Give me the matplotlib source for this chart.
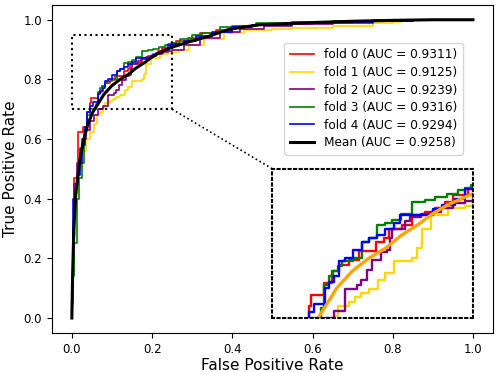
import numpy as np
import matplotlib
matplotlib.use("Agg")
import matplotlib.pyplot as plt

# ==== ROC-Daten ====
fold_names = ["fold 0", "fold 1", "fold 2", "fold 3", "fold 4"]
fold_auc = [0.9311, 0.9125, 0.9239, 0.9316, 0.9294]
fold_colors = ["red", "gold", "purple", "green", "blue"]

fpr_0 = [0, 0, 0.002, 0.006, 0.015, 0.029, 0.037, 0.045, 0.048, 0.064, 0.074, 0.083, 0.095, 0.108, 0.129, 0.139,
         0.145, 0.161, 0.174, 0.19, 0.203, 0.215, 0.225, 0.244, 0.26, 0.29, 0.32, 0.36, 0.40, 0.45, 0.52, 0.60,
         0.70, 0.80, 0.90, 1.0]
tpr_0 = [0, 0.12, 0.30, 0.47, 0.625, 0.64, 0.69, 0.72, 0.739, 0.759, 0.778, 0.789, 0.798, 0.812, 0.828, 0.834,
         0.85, 0.856, 0.873, 0.878, 0.884, 0.895, 0.906, 0.917, 0.93, 0.94, 0.955, 0.965, 0.978, 0.982, 0.986, 0.99,
         0.995, 0.998, 1.0, 1.0]

fpr_1 = [0, 0, 0.003, 0.008, 0.015, 0.025, 0.035, 0.045, 0.055, 0.062, 0.07, 0.077, 0.082, 0.095, 0.103, 0.11,
         0.12, 0.132, 0.14, 0.151, 0.174, 0.18, 0.186, 0.198, 0.219, 0.24, 0.25, 0.268, 0.293, 0.33, 0.38, 0.43,
         0.50, 0.548, 0.65, 0.75, 0.80, 0.82, 1.0]
tpr_1 = [0, 0.10, 0.28, 0.42, 0.50, 0.56, 0.60, 0.625, 0.65, 0.68, 0.69, 0.703, 0.72, 0.727, 0.735, 0.742,
         0.748, 0.764, 0.775, 0.795, 0.80, 0.817, 0.85, 0.873, 0.884, 0.887, 0.892, 0.90, 0.917, 0.935, 0.955, 0.965,
         0.97, 0.972, 0.98, 0.988, 0.993, 1.0, 1.0]

fpr_2 = [0, 0, 0.002, 0.006, 0.012, 0.02, 0.025, 0.035, 0.045, 0.055, 0.065, 0.077, 0.091, 0.105, 0.11, 0.118,
         0.124, 0.135, 0.143, 0.147, 0.149, 0.165, 0.172, 0.185, 0.198, 0.21, 0.225, 0.24, 0.25, 0.28, 0.32, 0.37,
         0.42, 0.48, 0.55, 0.65, 0.75, 0.85, 1.0]
tpr_2 = [0, 0.12, 0.30, 0.45, 0.52, 0.57, 0.60, 0.63, 0.66, 0.68, 0.70, 0.712, 0.748, 0.755, 0.764, 0.781,
         0.798, 0.81, 0.814, 0.834, 0.85, 0.862, 0.87, 0.875, 0.878, 0.885, 0.892, 0.896, 0.90, 0.915, 0.94, 0.96,
         0.97, 0.978, 0.985, 0.99, 0.995, 1.0, 1.0]

fpr_3 = [0, 0, 0.002, 0.005, 0.012, 0.018, 0.025, 0.03, 0.038, 0.045, 0.06, 0.064, 0.07, 0.075, 0.082, 0.087,
         0.1, 0.112, 0.12, 0.13, 0.14, 0.149, 0.16, 0.174, 0.19, 0.203, 0.218, 0.231, 0.24, 0.248, 0.27, 0.30,
         0.325, 0.37, 0.42, 0.459, 0.55, 0.65, 0.75, 1.0]
tpr_3 = [0, 0.05, 0.14, 0.25, 0.40, 0.47, 0.52, 0.63, 0.68, 0.70, 0.717, 0.756, 0.77, 0.778, 0.787, 0.795,
         0.80, 0.828, 0.834, 0.856, 0.86, 0.864, 0.875, 0.895, 0.898, 0.903, 0.908, 0.914, 0.918, 0.923, 0.935, 0.95,
         0.957, 0.975, 0.98, 0.99, 0.993, 0.997, 1.0, 1.0]

fpr_4 = [0, 0, 0.002, 0.004, 0.01, 0.015, 0.02, 0.025, 0.032, 0.037, 0.045, 0.052, 0.066, 0.07, 0.077, 0.083,
         0.09, 0.1, 0.112, 0.12, 0.13, 0.14, 0.151, 0.159, 0.19, 0.2, 0.211, 0.228, 0.24, 0.25, 0.28, 0.31,
         0.35, 0.40, 0.45, 0.55, 0.65, 0.75, 0.85, 1.0]
tpr_4 = [0, 0.10, 0.25, 0.40, 0.45, 0.48, 0.52, 0.58, 0.64, 0.69, 0.71, 0.723, 0.75, 0.76, 0.77, 0.795,
         0.80, 0.814, 0.828, 0.834, 0.84, 0.85, 0.859, 0.873, 0.873, 0.882, 0.889, 0.90, 0.917, 0.92, 0.93, 0.945,
         0.96, 0.975, 0.983, 0.99, 0.994, 0.997, 1.0, 1.0]

mean_auc = 0.9258
mean_fpr = [0, 0.002, 0.005, 0.01, 0.02, 0.03, 0.04, 0.052, 0.064, 0.08, 0.099, 0.12, 0.141, 0.16, 0.182, 0.20,
            0.219, 0.2475, 0.29, 0.342, 0.392, 0.467, 0.55, 0.608, 0.7, 0.8, 0.9, 1.0]
mean_tpr = [0, 0.15, 0.30, 0.42, 0.53, 0.60, 0.65, 0.69, 0.715, 0.75, 0.778, 0.80, 0.817, 0.838, 0.857, 0.875,
            0.89, 0.907, 0.925, 0.945, 0.968, 0.983, 0.988, 0.991, 0.995, 0.998, 1.0, 1.0]

fprs = [fpr_0, fpr_1, fpr_2, fpr_3, fpr_4]
tprs = [tpr_0, tpr_1, tpr_2, tpr_3, tpr_4]

# Zoom-Bereich und Position des Insets (Datenkoordinaten)
zoom_x = (0.0, 0.25)
zoom_y = (0.70, 0.95)
inset_box = (0.5, 0.0, 0.5, 0.5)

# ==== Plot ====
fig = plt.figure(figsize=(4.98, 3.72), dpi=100)
ax = fig.add_axes([0.104, 0.105, 0.886, 0.882])

for i in range(5):
    ax.plot(fprs[i], tprs[i], drawstyle="steps-post", color=fold_colors[i], lw=1.2,
            label=f"{fold_names[i]} (AUC = {fold_auc[i]:.4f})")
ax.plot(mean_fpr, mean_tpr, color="black", lw=2.2, label=f"Mean (AUC = {mean_auc:.4f})")

ax.set_xlim(-0.05, 1.05)
ax.set_ylim(-0.05, 1.05)
ax.set_xlabel("False Positive Rate", fontsize=11, labelpad=2)
ax.set_ylabel("True Positive Rate", fontsize=11, labelpad=4)
ax.tick_params(labelsize=8.5)
ax.legend(loc="upper right", bbox_to_anchor=(0.931, 0.884), fontsize=8.7, borderaxespad=0,
          handlelength=2.0, borderpad=0.45, labelspacing=0.38)

# Zoom-Rechteck + Verbindungslinie
ax.plot([zoom_x[0], zoom_x[1], zoom_x[1], zoom_x[0], zoom_x[0]],
        [zoom_y[0], zoom_y[0], zoom_y[1], zoom_y[1], zoom_y[0]], ls=":", color="black", lw=1.5)
ax.plot([zoom_x[1], inset_box[0]], [zoom_y[0], inset_box[1] + inset_box[3]], ls=":", color="black", lw=1.2)

# ==== Inset ====
axins = ax.inset_axes(list(inset_box), transform=ax.transData)
for i in range(5):
    axins.plot(fprs[i], tprs[i], drawstyle="steps-post", color=fold_colors[i], lw=1.7)
axins.plot(mean_fpr, mean_tpr, color="orange", lw=2.4)
axins.set_xlim(*zoom_x)
axins.set_ylim(*zoom_y)
axins.set_xticks([])
axins.set_yticks([])
for s in axins.spines.values():
    s.set_linestyle(":")
    s.set_linewidth(1.5)
    s.set_edgecolor("black")

fig.savefig("out.png", dpi=100)
